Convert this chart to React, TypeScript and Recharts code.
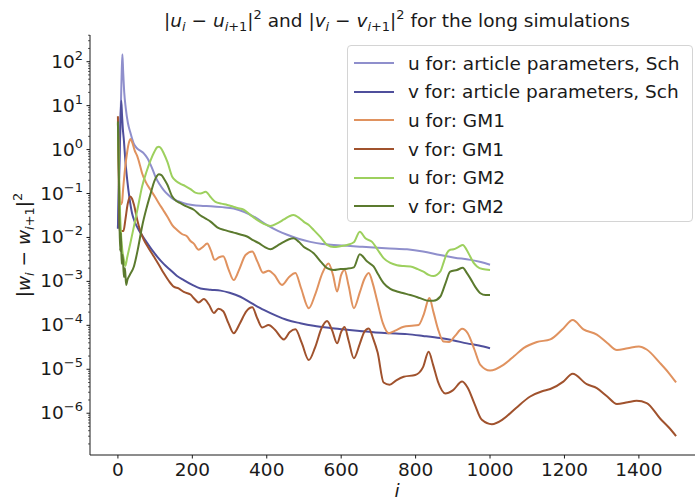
import { LineChart, Line, XAxis, YAxis } from "recharts";

const FONT = "'DejaVu Sans', sans-serif";
const INK = "#1a1a1a";

// ---- tick labels ----
const xTicks = [0, 200, 400, 600, 800, 1000, 1200, 1400];
const yExponents = [-6, -5, -4, -3, -2, -1, 0, 1, 2];
const minorSteps = [2, 3, 4, 5, 6, 7, 8, 9];
const yDomain: [number, number] = [1.12e-7, 405];

// ---- series: i values and |w_i - w_{i+1}|^2 values ----
const uSchI = [0, 6, 10, 12, 14, 17, 21, 27, 34, 42, 48, 55, 61, 68, 74, 81, 88, 95, 101, 112, 123, 135, 146, 160, 177, 200, 222, 250, 280, 311, 340, 370, 401, 430, 455, 485, 517, 550, 580, 616, 650, 687, 730, 777, 820, 866, 905, 947, 975, 1000];
const uSchV = [1.66e-2, 2.0, 50.1, 148, 63.1, 20.0, 8.91, 3.98, 2.34, 1.41, 1.15, 1.0, 0.933, 0.851, 0.741, 0.603, 0.447, 0.324, 0.24, 0.162, 0.12, 0.0933, 0.0776, 0.0676, 0.0603, 0.055, 0.0525, 0.0513, 0.049, 0.0457, 0.038, 0.0282, 0.0191, 0.0141, 0.0115, 0.00933, 0.00794, 0.00708, 0.00676, 0.00646, 0.00617, 0.00589, 0.00562, 0.00537, 0.00479, 0.00398, 0.00347, 0.00309, 0.00275, 0.0024];

const vSchI = [0, 4, 7, 9, 11, 13, 16, 20, 25, 31, 38, 46, 56, 67, 79, 92, 106, 123, 141, 158, 177, 200, 222, 249, 276, 300, 329, 360, 392, 425, 455, 490, 526, 570, 616, 650, 687, 730, 777, 820, 866, 900, 938, 970, 1000];
const vSchV = [0.0158, 0.5, 5.0, 12.9, 6.3, 3.16, 1.66, 0.562, 0.204, 0.0794, 0.0355, 0.0219, 0.0148, 0.0105, 0.00741, 0.00513, 0.00363, 0.00251, 0.00182, 0.00135, 0.00107, 8.32e-4, 6.92e-4, 6.46e-4, 6.17e-4, 5.5e-4, 4.47e-4, 3.16e-4, 2.24e-4, 1.66e-4, 1.32e-4, 1.12e-4, 9.77e-5, 8.71e-5, 7.94e-5, 7.41e-5, 6.92e-5, 6.61e-5, 6.31e-5, 5.75e-5, 5.13e-5, 4.57e-5, 3.89e-5, 3.47e-5, 3.02e-5];

const uGM1I = [0, 3, 7, 11, 14, 19, 25, 30, 34, 39, 45, 52, 60, 65, 75, 88, 100, 110, 122, 133, 146, 159, 172, 186, 195, 204, 217, 228, 240, 250, 260, 272, 283, 297, 311, 325, 343, 361, 375, 390, 405, 420, 441, 460, 477, 492, 513, 530, 550, 566, 578, 589, 600, 609, 620, 634, 650, 662, 674, 685, 696, 712, 728, 745, 768, 790, 808, 822, 837, 848, 860, 875, 890, 906, 925, 940, 958, 974, 1000, 1036, 1065, 1090, 1126, 1162, 1197, 1222, 1251, 1287, 1315, 1341, 1370, 1400, 1421, 1457, 1480, 1500];
const uGM1V = [4.0, 0.2, 0.0562, 0.063, 0.126, 0.355, 0.891, 1.48, 1.74, 1.41, 0.955, 0.708, 0.417, 0.288, 0.182, 0.12, 0.0832, 0.0603, 0.0417, 0.0295, 0.0191, 0.0148, 0.012, 0.0105, 0.00832, 0.00724, 0.00525, 0.00603, 0.00724, 0.00501, 0.00309, 0.00355, 0.00372, 0.00191, 0.00107, 0.00178, 0.00398, 0.00479, 0.00282, 0.00158, 0.00174, 0.00141, 8.32e-4, 0.00126, 0.00155, 7.08e-4, 2.45e-4, 5.01e-4, 0.00158, 0.00257, 0.00141, 5.89e-4, 0.00141, 0.00182, 7.94e-4, 2.45e-4, 5.62e-4, 0.00112, 0.00155, 8.91e-4, 3.8e-4, 1.12e-4, 6.61e-5, 7.59e-5, 9.33e-5, 9.77e-5, 1.02e-4, 1.78e-4, 4.17e-4, 2.0e-4, 8.32e-5, 4.27e-5, 4.17e-5, 5.75e-5, 8.32e-5, 6.61e-5, 2.82e-5, 1.26e-5, 9.33e-6, 1.26e-5, 2.0e-5, 3.02e-5, 4.17e-5, 4.79e-5, 8.51e-5, 1.32e-4, 8.13e-5, 6.17e-5, 3.98e-5, 2.75e-5, 3.02e-5, 3.31e-5, 2.82e-5, 1.38e-5, 8.32e-6, 5.01e-6];

const vGM1I = [0, 2, 4, 8, 15, 20, 26, 33, 38, 43, 52, 60, 70, 83, 97, 110, 123, 136, 150, 163, 177, 195, 206, 217, 231, 244, 258, 270, 283, 297, 311, 328, 345, 361, 375, 388, 405, 422, 446, 462, 477, 494, 513, 530, 548, 562, 576, 589, 600, 609, 620, 634, 650, 662, 674, 686, 698, 714, 730, 748, 768, 799, 820, 835, 847, 860, 880, 900, 925, 940, 958, 978, 1005, 1036, 1070, 1108, 1140, 1162, 1197, 1222, 1260, 1287, 1315, 1341, 1370, 1394, 1421, 1457, 1480, 1500];
const vGM1V = [5.75, 0.316, 0.0135, 0.0141, 0.0141, 0.0251, 0.0562, 0.0851, 0.0759, 0.0562, 0.0251, 0.0141, 0.00871, 0.00562, 0.00363, 0.0024, 0.00155, 0.00105, 7.59e-4, 6.92e-4, 5.75e-4, 5.01e-4, 3.98e-4, 3.31e-4, 3.98e-4, 3.02e-4, 1.91e-4, 2.4e-4, 2.09e-4, 1.12e-4, 6.61e-5, 1.12e-4, 2.09e-4, 2.57e-4, 1.41e-4, 8.91e-5, 1.02e-4, 7.94e-5, 4.79e-5, 7.08e-5, 8.13e-5, 3.98e-5, 1.62e-5, 3.16e-5, 8.91e-5, 1.26e-4, 7.59e-5, 3.89e-5, 7.08e-5, 9.12e-5, 4.47e-5, 1.78e-5, 3.8e-5, 7.08e-5, 8.51e-5, 5.01e-5, 2.4e-5, 5.01e-6, 4.47e-6, 5.62e-6, 6.76e-6, 7.41e-6, 1.12e-5, 2.51e-5, 1.26e-5, 5.25e-6, 2.82e-6, 3.31e-6, 5.25e-6, 3.8e-6, 1.66e-6, 7.08e-7, 5.62e-7, 7.41e-7, 1.32e-6, 2.4e-6, 3.16e-6, 3.55e-6, 5.25e-6, 7.94e-6, 4.57e-6, 3.72e-6, 2.4e-6, 1.62e-6, 1.78e-6, 1.91e-6, 1.7e-6, 7.59e-7, 4.79e-7, 3.02e-7];

const uGM2I = [0, 3, 6, 9, 12, 16, 20, 25, 33, 43, 54, 65, 77, 88, 98, 105, 110, 116, 124, 133, 146, 157, 168, 181, 195, 208, 222, 236, 249, 262, 278, 294, 310, 321, 338, 355, 374, 392, 410, 428, 446, 460, 472, 486, 499, 513, 526, 545, 562, 580, 598, 616, 634, 650, 665, 683, 698, 714, 732, 750, 768, 786, 805, 821, 835, 848, 866, 876, 884, 893, 902, 915, 927, 937, 947, 956, 965, 980, 1000];
const uGM2V = [3.98, 0.316, 0.0316, 0.01, 0.005, 0.00316, 0.00224, 0.00355, 0.00708, 0.0178, 0.0501, 0.145, 0.316, 0.575, 0.891, 1.12, 1.16, 1.07, 0.794, 0.525, 0.24, 0.191, 0.166, 0.148, 0.126, 0.105, 0.1, 0.11, 0.0832, 0.0646, 0.0589, 0.055, 0.0501, 0.0468, 0.0427, 0.0331, 0.0251, 0.0204, 0.0182, 0.0209, 0.0257, 0.0302, 0.0324, 0.0282, 0.0229, 0.0191, 0.0148, 0.01, 0.00676, 0.00603, 0.00631, 0.00676, 0.00776, 0.0135, 0.00955, 0.00794, 0.00525, 0.00339, 0.00263, 0.00234, 0.00224, 0.00219, 0.00191, 0.00166, 0.00141, 0.00132, 0.00166, 0.00282, 0.00437, 0.00525, 0.00537, 0.00603, 0.00676, 0.00525, 0.00363, 0.00263, 0.00219, 0.00191, 0.00182];

const vGM2I = [0, 2, 4, 6, 8, 10, 13, 16, 19, 22, 26, 32, 43, 54, 65, 77, 88, 98, 105, 110, 117, 125, 133, 146, 157, 168, 186, 204, 222, 236, 249, 267, 290, 311, 329, 347, 363, 379, 395, 410, 428, 446, 460, 472, 486, 499, 513, 526, 545, 562, 580, 598, 616, 634, 650, 670, 687, 700, 714, 732, 750, 768, 786, 805, 821, 835, 848, 866, 880, 893, 911, 927, 937, 947, 960, 974, 988, 1000];
const vGM2V = [4.37, 0.5, 0.0316, 0.005, 0.0126, 0.00251, 0.00398, 0.00126, 0.002, 8.32e-4, 0.00112, 0.00141, 0.00219, 0.00562, 0.0178, 0.0468, 0.1, 0.191, 0.251, 0.275, 0.263, 0.209, 0.158, 0.0851, 0.0676, 0.0603, 0.0501, 0.0427, 0.0316, 0.0269, 0.0229, 0.017, 0.0145, 0.0129, 0.0117, 0.0105, 0.00871, 0.00741, 0.00603, 0.00537, 0.00646, 0.00794, 0.00912, 0.00955, 0.00794, 0.00617, 0.00525, 0.00437, 0.00282, 0.002, 0.00182, 0.00191, 0.00195, 0.00209, 0.00417, 0.00282, 0.00219, 0.00141, 9.12e-4, 6.76e-4, 5.89e-4, 5.37e-4, 4.9e-4, 4.37e-4, 3.89e-4, 3.63e-4, 3.63e-4, 4.47e-4, 8.91e-4, 0.00166, 0.00182, 0.00204, 0.00158, 0.00117, 7.59e-4, 5.37e-4, 4.9e-4, 4.9e-4];

const zip = (is: number[], vs: number[]) => is.map((i, k) => ({ i, v: vs[k] }));

const series = [
  { name: "u for: article parameters, Sch", color: "#8f8fcc", data: zip(uSchI, uSchV) },
  { name: "v for: article parameters, Sch", color: "#4f4f9c", data: zip(vSchI, vSchV) },
  { name: "u for: GM1", color: "#e0925f", data: zip(uGM1I, uGM1V) },
  { name: "v for: GM1", color: "#a0522d", data: zip(vGM1I, vGM1V) },
  { name: "u for: GM2", color: "#9dd05e", data: zip(uGM2I, uGM2V) },
  { name: "v for: GM2", color: "#5b7a2e", data: zip(vGM2I, vGM2V) },
];

const yTicks: number[] = [];
for (let e = -7; e <= 2; e++) {
  yTicks.push(Math.pow(10, e));
  minorSteps.forEach((m) => yTicks.push(m * Math.pow(10, e)));
}
const yTicksInRange = yTicks.filter((t) => t >= yDomain[0] && t <= yDomain[1]);

type Seg = { t: string; it?: boolean; sub?: boolean; sup?: boolean };

function mathSpans(segs: Seg[], fs: number) {
  let cur = 0;
  return segs.map((s, k) => {
    const target = s.sub ? fs * 0.22 : s.sup ? -fs * 0.42 : 0;
    const dy = target - cur;
    cur = target;
    return (
      <tspan key={k} dy={dy} fontStyle={s.it ? "italic" : "normal"} fontSize={s.sub || s.sup ? fs * 0.7 : fs}>
        {s.t}
      </tspan>
    );
  });
}

const titleSegs: Seg[] = [
  { t: "|" }, { t: "u", it: true }, { t: "i", it: true, sub: true }, { t: " − " }, { t: "u", it: true },
  { t: "i", it: true, sub: true }, { t: "+1", sub: true }, { t: "|" }, { t: "2", sup: true },
  { t: " and |" }, { t: "v", it: true }, { t: "i", it: true, sub: true }, { t: " − " }, { t: "v", it: true },
  { t: "i", it: true, sub: true }, { t: "+1", sub: true }, { t: "|" }, { t: "2", sup: true },
  { t: " for the long simulations" },
];

const yLabelSegs: Seg[] = [
  { t: "|" }, { t: "w", it: true }, { t: "i", it: true, sub: true }, { t: " − " }, { t: "w", it: true },
  { t: "i", it: true, sub: true }, { t: "+1", sub: true }, { t: "|" }, { t: "2", sup: true },
];

function YTick(props: any) {
  const { x, y, payload } = props;
  const v = payload.value as number;
  const e = Math.log10(v);
  const major = Math.abs(e - Math.round(e)) < 1e-6;
  const ex = Math.round(e);
  return (
    <g>
      <line x1={x - (major ? 3.5 : 2)} x2={x} y1={y} y2={y} stroke={INK} strokeWidth={major ? 1 : 0.7} />
      {major && yExponents.includes(ex) && (
        <text x={x - 7} y={y + 6} textAnchor="end" fontFamily={FONT} fontSize={18.5} fill={INK}>
          10
          <tspan dy={-8} fontSize={13}>{ex < 0 ? "−" + -ex : String(ex)}</tspan>
        </text>
      )}
    </g>
  );
}

function XTick(props: any) {
  const { x, y, payload } = props;
  return (
    <g>
      <line x1={x} x2={x} y1={y} y2={y + 3.5} stroke={INK} strokeWidth={1} />
      <text x={x} y={y + 21} textAnchor="middle" fontFamily={FONT} fontSize={18.5} fill={INK}>
        {payload.value}
      </text>
    </g>
  );
}

export default function App() {
  return (
    <div style={{ position: "absolute", left: 0, top: 0, width: 695, height: 503, overflow: "hidden", background: "#fff" }}>
      <LineChart width={720} height={503} margin={{ top: 35, right: 16, bottom: 0, left: 0 }}>
        <XAxis
          dataKey="i"
          type="number"
          domain={[-75, 1575]}
          allowDataOverflow
          ticks={xTicks}
          interval={0}
          height={48}
          tickSize={0}
          tickMargin={0}
          tickLine={false}
          tick={<XTick />}
          axisLine={{ stroke: INK, strokeWidth: 1 }}
          label={() => (
            <text x={397} y={497} textAnchor="middle" fontFamily={FONT} fontSize={18.5} fontStyle="italic" fill={INK}>
              i
            </text>
          )}
        />
        <XAxis
          xAxisId="top"
          orientation="top"
          dataKey="i"
          type="number"
          domain={[-75, 1575]}
          allowDataOverflow
          height={0}
          tick={false}
          tickLine={false}
          axisLine={{ stroke: INK, strokeWidth: 1 }}
        />
        <YAxis
          scale="log"
          type="number"
          domain={yDomain}
          allowDataOverflow
          ticks={yTicksInRange}
          interval={0}
          width={90}
          tickSize={0}
          tickMargin={0}
          tickLine={false}
          tick={<YTick />}
          axisLine={{ stroke: INK, strokeWidth: 1 }}
        />
        {series.map((s) => (
          <Line
            key={s.name}
            data={s.data}
            dataKey="v"
            type="monotone"
            stroke={s.color}
            strokeWidth={2}
            dot={false}
            activeDot={false}
            isAnimationActive={false}
          />
        ))}
        <text x={397} y={27} textAnchor="middle" fontFamily={FONT} fontSize={18.5} fill={INK}>
          {mathSpans(titleSegs, 18.5)}
        </text>
        <text x={30} y={245} textAnchor="middle" fontFamily={FONT} fontSize={18.5} fill={INK} transform="rotate(-90 30 245)">
          {mathSpans(yLabelSegs, 18.5)}
        </text>
      </LineChart>
      <div
        style={{
          position: "absolute",
          left: 347,
          top: 45,
          width: 346,
          height: 177,
          border: "1px solid #d4d4d4",
          borderRadius: 4,
          background: "rgba(255,255,255,0.8)",
          boxSizing: "border-box",
          paddingTop: 3,
          fontFamily: FONT,
          fontSize: 18.5,
          color: INK,
        }}
      >
        {series.map((s) => (
          <div key={s.name} style={{ height: 28.6, display: "flex", alignItems: "center", whiteSpace: "nowrap" }}>
            <div style={{ width: 40, height: 2, background: s.color, marginLeft: 6, marginRight: 14 }} />
            <span>{s.name}</span>
          </div>
        ))}
      </div>
    </div>
  );
}
